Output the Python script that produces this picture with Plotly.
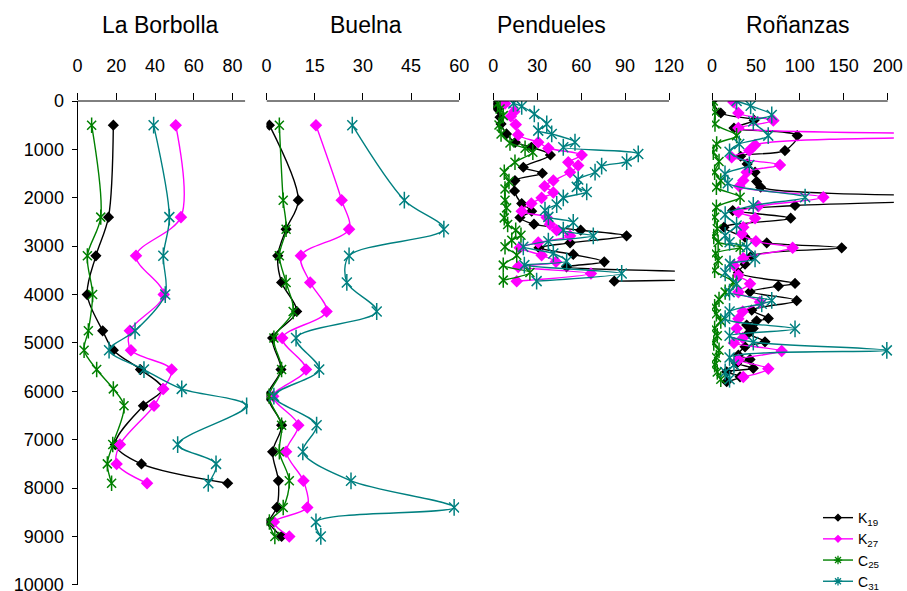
import plotly.graph_objects as go

# ---------------- data ----------------
titles = ["La Borbolla", "Buelna", "Pendueles", "Roñanzas"]
series_names = ["K<sub>19</sub>", "K<sub>27</sub>", "C<sub>25</sub>", "C<sub>31</sub>"]

# La Borbolla
lb_depth = [500, 2400, 3200, 4000, 4750, 5150, 5550, 5950, 6300, 7100, 7500, 7900]
lb_K19 = [18.5, 16, 9.5, 5, 13, 18.5, 32.5, 44, 34, 19.5, 33, 77.5]
lb_K27 = [50.7, 53.4, 30.2, 44.5, 27, 27.6, 48.6, 44.3, 39.5, 21.9, 20.2, 35.9]
lb_C25 = [7.3, 12, 5.1, 7.8, 5.6, 3.4, 9.9, 18.5, 24, 18.2, 15.4, 17.6]
lb_C31 = [39.3, 47.4, 44.3, 45.3, 29.7, 16.3, 34.3, 53.8, 87.3, 51.7, 71.5, 67.5]

# Buelna
bu_depth = [500, 2050, 2650, 3200, 3750, 4350, 4900, 5550, 6100, 6700, 7250, 7850, 8400, 8700, 9000]
bu_K19 = [0.9, 9.9, 6.1, 3.5, 4.7, 9.4, 1.9, 4.5, 0.3, 4.7, 1.9, 3.7, 3.2, 0.9, 4.7]
bu_K27 = [15.4, 23.4, 25.7, 10.7, 13.6, 18.7, 4.9, 12.3, 2.1, 9.9, 6.1, 11.5, 12.7, 2.3, 7.1]
bu_C25 = [4, 5.2, 6.1, 4, 6.1, 8.3, 2.3, 4.7, 0.8, 4.7, 4, 7.1, 5.2, 0.9, 2.6]
bu_C31 = [26.7, 42.9, 55.2, 25.7, 25, 34.3, 9.2, 16.4, 2.3, 15.6, 11.3, 26.3, 58.4, 15.4, 16.9]

# Pendueles
pe_K19_depth = [50, 165, 336, 475, 681, 853, 956, 1115, 1369, 1493, 1644, 1860, 2119, 2278, 2408,
                2546, 2670, 2787, 2932, 3035, 3172, 3324, 3428, 3612, 3723]
pe_K19 = [0, 3, 4.6, 5.3, 9, 15, 26, 39, 20.5, 33.5, 14.8, 14.5, 19.4, 26.2, 18.2,
          27.8, 59.7, 91, 52.4, 31.2, 54.6, 75.8, 50, 250, 82.6]
pe_K27_depth = [50, 219, 316, 488, 700, 853, 977, 1115, 1266, 1335, 1472, 1644, 1760, 1891, 2002,
                2119, 2278, 2408, 2546, 2670, 2787, 2925, 3035, 3186, 3324, 3428, 3564, 3723]
pe_K27 = [8, 14.3, 12, 15.3, 17, 30.7, 37.6, 60.4, 51.2, 58, 52.4, 41, 35, 41, 33,
          26, 19.4, 36.5, 38.7, 43.3, 52.4, 30.7, 18, 33, 42.8, 17, 66.7, 16]
pe_C25_depth = [50, 165, 302, 495, 681, 867, 977, 1059, 1266, 1472, 1665, 1817, 2050, 2209, 2415,
                2552, 2670, 2773, 2876, 3014, 3186, 3392, 3543, 3702]
pe_C25 = [3, 4.6, 6.8, 3.9, 5.3, 11.4, 21.7, 27, 14.8, 7.5, 10.7, 8, 8, 9.1, 7.5,
          9.8, 15.3, 18.9, 12.6, 8, 16, 6.8, 25, 6.8]
pe_C31_depth = [50, 110, 268, 475, 612, 681, 853, 956, 1094, 1252, 1348, 1472, 1623, 1775, 1879,
                2002, 2139, 2257, 2395, 2511, 2670, 2787, 2897, 3014, 3152, 3310, 3392, 3564, 3723]
pe_C31 = [13.7, 19.4, 28, 36.5, 30.7, 39.9, 55.8, 47.8, 99, 91.1, 74, 69.5, 58, 57, 63.8,
          47.8, 43.3, 35.3, 37.6, 54.6, 47.8, 68.3, 37.6, 20.5, 41, 50.1, 21.2, 87.7, 29.6]

# Roñanzas
ro_K19_depth = [0, 248, 398, 560, 715, 1025, 1142, 1300, 1472, 1665, 1782, 2000, 2160, 2265, 2422,
                2608, 2815, 2932, 3035, 3200, 3372, 3550, 3770, 3826, 3944, 4126, 4322, 4494, 4542,
                4632, 4700, 4803, 4976, 5080, 5251, 5340, 5422, 5525, 5596, 5700, 5802]
ro_K19 = [0, 10, 48, 25, 97, 83, 32.6, 40, 49, 50.8, 55.4, 350, 94.5, 23.6, 89.6,
          13.7, 37.6, 62.3, 147.6, 45, 37.6, 30, 94.5, 75.5, 43.3, 96.4, 45.2, 64.1, 50.8,
          39.5, 47, 41.3, 60.3, 37.6, 30, 43.3, 28, 47, 16.7, 31.9, 16.7]
ro_K27_depth = [20, 248, 405, 560, 715, 908, 1025, 1162, 1321, 1472, 1644, 1761, 1988, 2174, 2300,
                2422, 2608, 2746, 2900, 3035, 3248, 3400, 3600, 3778, 3950, 4156, 4350, 4500, 4700,
                4900, 5000, 5168, 5350, 5534, 5705]
ro_K27 = [24.3, 30, 69.8, 30, 350, 49, 42.5, 22.4, 77.4, 39.5, 35.6, 31.1, 126.7, 52.7, 30,
          49, 35.6, 33.8, 50, 91.8, 35.6, 25, 30, 43.3, 30, 54.6, 35, 30, 28,
          35, 25, 79.3, 30, 64.1, 35.6]
ro_C25_depth = [0, 233, 475, 715, 888, 1059, 1250, 1472, 1650, 1783, 1988, 2195, 2400, 2640, 2800,
                2918, 3021, 3150, 3296, 3500, 3744, 3950, 4100, 4250, 4398, 4550, 4700, 4850, 5000,
                5150, 5300, 5450, 5600, 5750]
ro_C25 = [1.5, 3.4, 3.4, 28, 5.3, 1.5, 8, 3, 10, 5, 32, 5, 3, 6, 2,
          7, 32, 4, 7, 3, 24, 15, 8, 3, 5, 10, 3, 6, 2,
          8, 5, 3, 6, 10]
ro_C31_depth = [0, 100, 289, 425, 715, 888, 1050, 1321, 1507, 1700, 1988, 2160, 2350, 2573, 2780,
                2920, 3021, 3262, 3366, 3550, 3778, 3950, 4122, 4191, 4350, 4500, 4708, 4850, 4982,
                5154, 5300, 5450, 5600, 5750]
ro_C31 = [28, 44, 68, 47, 64, 31, 20, 42.5, 14.8, 18, 106, 47, 15, 28, 15,
          20, 39.5, 49, 20.5, 15, 28, 20, 68, 56.6, 20, 15, 94.5, 20, 47,
          199, 20, 25, 15, 20]

x_tickvals = [[0, 20, 40, 60, 80], [0, 15, 30, 45, 60], [0, 30, 60, 90, 120], [0, 50, 100, 150, 200]]
y_tickvals = list(range(0, 10001, 1000))

# ---------------- styling ----------------
W, H = 907, 591
FONT = "Arial, Liberation Sans, sans-serif"
styles = [
    dict(color="#000000", symbol="diamond", size=7, lw=1.4, star=False),
    dict(color="#FF00FF", symbol="diamond", size=8, lw=1.4, star=False),
    dict(color="#008000", symbol="x-thin-open", size=9, lw=1.4, star=True),
    dict(color="#008080", symbol="x-thin-open", size=10, lw=1.4, star=True),
]
# pixel placement of each panel (zero position, px per unit, axis range, axis line end, title pos)
panels = [
    dict(x0=77.5, ppu=1.9375, rmax=88, lineend=86.5, tx=43),
    dict(x0=266.5, ppu=3.213, rmax=60, lineend=60, tx=31),
    dict(x0=493.3, ppu=1.4642, rmax=124, lineend=120, tx=39.5),
    dict(x0=712.0, ppu=0.8785, rmax=207, lineend=200, tx=98),
]

panel_data = [
    [(lb_depth, lb_K19), (lb_depth, lb_K27), (lb_depth, lb_C25), (lb_depth, lb_C31)],
    [(bu_depth, bu_K19), (bu_depth, bu_K27), (bu_depth, bu_C25), (bu_depth, bu_C31)],
    [(pe_K19_depth, pe_K19), (pe_K27_depth, pe_K27), (pe_C25_depth, pe_C25), (pe_C31_depth, pe_C31)],
    [(ro_K19_depth, ro_K19), (ro_K27_depth, ro_K27), (ro_C25_depth, ro_C25), (ro_C31_depth, ro_C31)],
]

fig = go.Figure()
for p, series in enumerate(panel_data):
    xa = "x" if p == 0 else f"x{p+1}"
    for s, (d, v) in enumerate(series):
        st = styles[s]
        fig.add_trace(go.Scatter(
            x=v, y=d, xaxis=xa, yaxis="y", mode="lines+markers",
            name=series_names[s], legendgroup=series_names[s], showlegend=False,
            line=dict(color=st["color"], width=st["lw"], shape="spline", smoothing=0.9),
            marker=dict(symbol=st["symbol"], size=st["size"], color=st["color"],
                        line=dict(color=st["color"], width=1.5)),
        ))
        if st["star"]:
            # vertical bar completing the six-armed star marker
            fig.add_trace(go.Scatter(
                x=v, y=d, xaxis=xa, yaxis="y", mode="markers",
                legendgroup=series_names[s], showlegend=False, hoverinfo="skip",
                marker=dict(symbol="line-ns-open", size=st["size"] + 2, color=st["color"],
                            line=dict(color=st["color"], width=1.5)),
            ))

# legend-only entries with small symbols, as in the reference legend
for s, st in enumerate(styles):
    fig.add_trace(go.Scatter(
        x=[None], y=[None], xaxis="x", yaxis="y", mode="lines+markers",
        name=series_names[s], legendgroup=series_names[s], showlegend=True,
        line=dict(color=st["color"], width=1.4),
        marker=dict(symbol="diamond" if not st["star"] else "asterisk-open",
                    size=5 if not st["star"] else 7, color=st["color"],
                    line=dict(color=st["color"], width=1.3)),
    ))

layout = dict(
    width=W, height=H,
    margin=dict(l=0, r=0, t=100.7, b=6, autoexpand=False),
    paper_bgcolor="white", plot_bgcolor="white",
    font=dict(family=FONT, color="black", size=18),
    showlegend=True,
    legend=dict(x=818 / W, xanchor="left", y=(585 - 502) / (H - 106.7), yanchor="top",
                bgcolor="rgba(0,0,0,0)", font=dict(size=14, family=FONT),
                itemwidth=30, tracegroupgap=0),
    yaxis=dict(range=[10003, 0], tickvals=y_tickvals, ticktext=[str(t) for t in y_tickvals],
               ticks="outside", ticklen=5, tickcolor="black", showline=True, linecolor="black",
               linewidth=1, showgrid=False, zeroline=False, anchor="x", automargin=False,
               tickfont=dict(size=18, family=FONT), ticklabelstandoff=4,
               ticklabeloverflow="allow"),
)
shapes = []
annotations = []
for p, pn in enumerate(panels):
    key = "xaxis" if p == 0 else f"xaxis{p+1}"
    xref = "x" if p == 0 else f"x{p+1}"
    d0 = pn["x0"] / W
    d1 = (pn["x0"] + pn["rmax"] * pn["ppu"]) / W
    layout[key] = dict(
        domain=[d0, min(d1, 1.0)], range=[0, pn["rmax"]], side="top", anchor="y",
        tickvals=x_tickvals[p], ticks="outside", ticklen=7, tickcolor="black",
        showline=False, showgrid=False, zeroline=False, automargin=False,
        tickfont=dict(size=18, family=FONT), ticklabelstandoff=14,
        ticklabeloverflow="allow",
    )
    shapes.append(dict(type="line", xref=xref, yref="paper", x0=0, x1=pn["lineend"],
                       y0=1, y1=1, line=dict(color="black", width=1)))
    annotations.append(dict(text=titles[p], xref=xref, yref="paper",
                            x=pn["tx"], y=1, yshift=76, showarrow=False,
                            xanchor="center", yanchor="middle",
                            font=dict(size=23, family=FONT, color="black")))
layout["shapes"] = shapes
layout["annotations"] = annotations
fig.update_layout(**layout)

fig.write_html("out.html", config={"displayModeBar": False},
               post_script="document.body.style.margin='0px';")
